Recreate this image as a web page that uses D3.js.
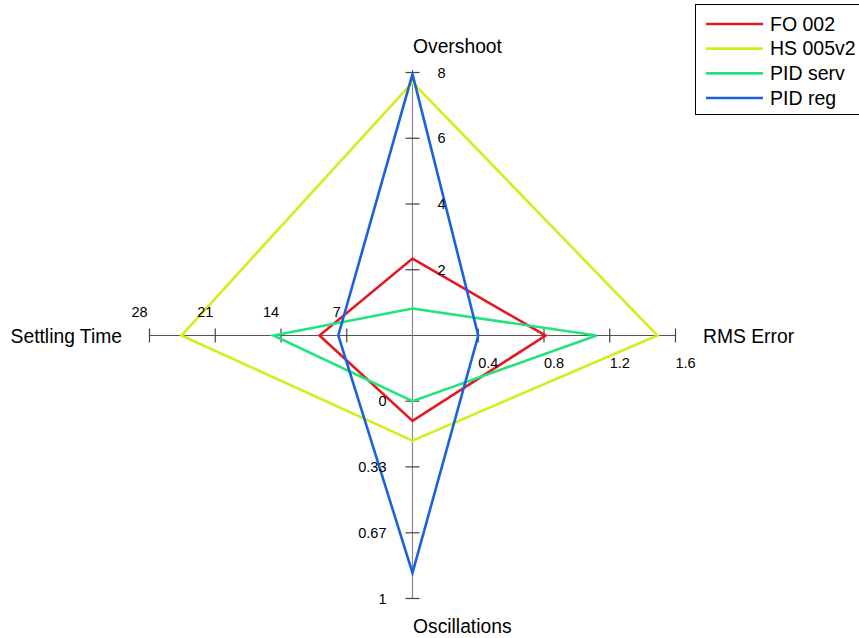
<!DOCTYPE html>
<html>
<head>
<meta charset="utf-8">
<script src="https://cdn.jsdelivr.net/npm/d3@7/dist/d3.min.js"></script>
<style>
  html, body { margin: 0; padding: 0; background: #fff; }
  svg { display: block; font-family: "Liberation Sans", Arial, sans-serif; }
</style>
</head>
<body>
<svg id="chart" width="859" height="638"></svg>
<script>
// Radar axes: name, direction, domain, tick values and tick labels
const axisNames = ["Overshoot", "RMS Error", "Oscillations", "Settling Time"];
const axisDomains = [[0, 8], [0, 1.6], [-0.333, 1], [0, 28]];
const axisTickValues = [[2, 4, 6, 8], [0.4, 0.8, 1.2, 1.6], [0, 0.333, 0.667, 1], [7, 14, 21, 28]];
const axisTickLabels = [["2", "4", "6", "8"], ["0.4", "0.8", "1.2", "1.6"], ["0", "0.33", "0.67", "1"], ["7", "14", "21", "28"]];

// Series (values in axis order: Overshoot, RMS Error, Oscillations, Settling Time)
const seriesNames = ["FO 002", "HS 005v2", "PID serv", "PID reg"];
const seriesColors = ["#e41a22", "#d6ec1c", "#22e47a", "#1a62dc"];
const fo002 = [2.34, 0.81, 0.1, 9.9];
const hs005v2 = [7.7, 1.49, 0.2, 24.6];
const pidServ = [0.82, 1.12, 0, 14.8];
const pidReg = [7.95, 0.40, 0.87, 7.9];
const seriesValues = [fo002, hs005v2, pidServ, pidReg];

const svg = d3.select("#chart");
const cx = 412.5, cy = 335.5, R = 263;
// unit direction vectors: up, right, down, left
const dirs = [[0, -1], [1, 0], [0, 1], [-1, 0]];
const scales = axisDomains.map(d => d3.scaleLinear().domain(d).range([0, R]));

function pt(i, v) {
  const r = scales[i](v);
  return [cx + dirs[i][0] * r, cy + dirs[i][1] * r];
}

// axis lines
const axesG = svg.append("g");
axisNames.forEach((name, i) => {
  const [x2, y2] = [cx + dirs[i][0] * R, cy + dirs[i][1] * R];
  axesG.append("line")
    .attr("x1", cx).attr("y1", cy).attr("x2", x2).attr("y2", y2)
    .attr("stroke", i % 2 === 0 ? "#8a8a8a" : "#555").attr("stroke-width", 1.2);

  // tick marks perpendicular to the axis
  axesG.selectAll(null).data(axisTickValues[i]).enter().append("line")
    .attr("x1", v => pt(i, v)[0] - dirs[i][1] * 7)
    .attr("y1", v => pt(i, v)[1] - dirs[i][0] * 7)
    .attr("x2", v => pt(i, v)[0] + dirs[i][1] * 7)
    .attr("y2", v => pt(i, v)[1] + dirs[i][0] * 7)
    .attr("stroke", "#444").attr("stroke-width", 1.2);
});

// polygons
const lineGen = d3.line().curve(d3.curveLinearClosed);
svg.append("g").selectAll("path").data(seriesValues).enter().append("path")
  .attr("d", vals => lineGen(vals.map((v, i) => pt(i, v))))
  .attr("fill", "none")
  .attr("stroke", (d, k) => seriesColors[k])
  .attr("stroke-width", 2.6)
  .attr("stroke-linejoin", "miter");

// tick labels
const tickOffsets = [[29, 0, "middle"], [10, 27, "middle"], [-26, 0, "end"], [-10, -24, "middle"]];
const labelsG = svg.append("g").attr("font-size", 14.5).attr("fill", "#000");
axisTickValues.forEach((ticks, i) => {
  labelsG.selectAll(null).data(ticks).enter().append("text")
    .attr("x", v => pt(i, v)[0] + tickOffsets[i][0])
    .attr("y", v => pt(i, v)[1] + tickOffsets[i][1])
    .attr("dy", "0.35em")
    .attr("text-anchor", tickOffsets[i][2])
    .text((v, j) => axisTickLabels[i][j]);
});

// axis titles
const titlePos = [[413, 46, "start"], [703, 336, "start"], [413, 626, "start"], [122, 336, "end"]];
svg.append("g").attr("font-size", 19.3).selectAll("text").data(axisNames).enter().append("text")
  .attr("x", (d, i) => titlePos[i][0])
  .attr("y", (d, i) => titlePos[i][1])
  .attr("dy", "0.35em")
  .attr("text-anchor", (d, i) => titlePos[i][2])
  .text(d => d);

// legend
const lg = svg.append("g");
lg.append("rect").attr("x", 695.5).attr("y", 4.5).attr("width", 175).attr("height", 110)
  .attr("fill", "#fff").attr("stroke", "#000").attr("stroke-width", 1);
const legendY = d3.scalePoint().domain(seriesNames).range([24, 98]);
const items = lg.selectAll("g.item").data(seriesNames).enter().append("g");
items.append("line")
  .attr("x1", 706).attr("x2", 763)
  .attr("y1", d => legendY(d)).attr("y2", d => legendY(d))
  .attr("stroke", (d, k) => seriesColors[k]).attr("stroke-width", 2.6);
items.append("text")
  .attr("x", 770).attr("y", d => legendY(d)).attr("dy", "0.35em")
  .attr("font-size", 19.5).text(d => d);
</script>
</body>
</html>
